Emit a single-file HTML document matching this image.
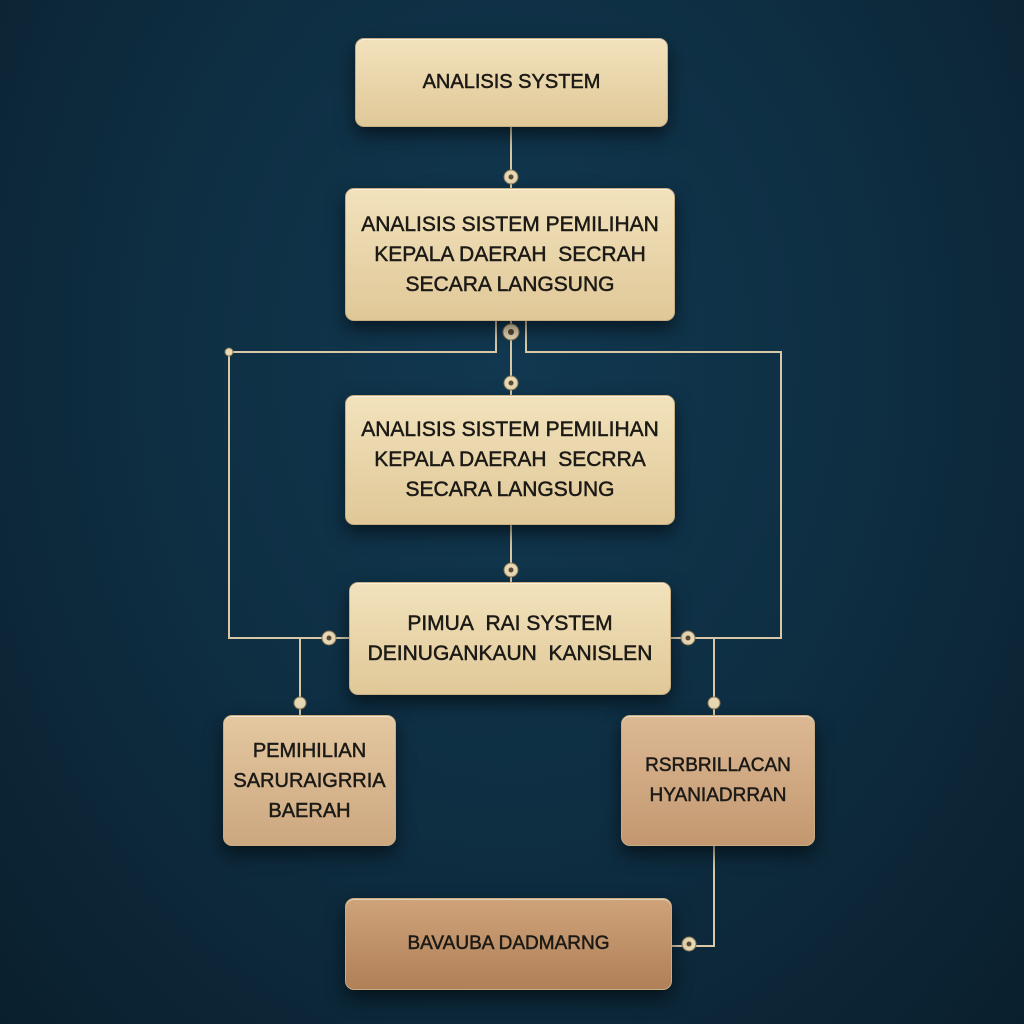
<!DOCTYPE html>
<html><head><meta charset="utf-8"><style>
html,body{margin:0;padding:0}
body{width:1024px;height:1024px;overflow:hidden;position:relative;
background:radial-gradient(ellipse at 50% 35%,#113850 0%,#0e2e42 50%,#0a1f2d 100%);
font-family:"Liberation Sans Narrow","Liberation Sans",sans-serif;}
.b{position:absolute;box-sizing:border-box;border-radius:9px;display:flex;flex-direction:column;
align-items:center;justify-content:center;text-align:center;color:#1c1a16;font-weight:normal;-webkit-text-stroke:0.5px #1c1a16;
box-shadow:0 8px 18px rgba(0,0,0,.55),inset 0 1px 0 rgba(255,255,255,.5);border:1px solid #c8ad82;}
.l{background:linear-gradient(#f2e2bc,#e0c898);}
svg{position:absolute;left:0;top:0}
</style></head><body>
<svg width="1024" height="1024">
<g stroke="#d8c8a8" stroke-width="2" fill="none">
<path d="M511 127V188"/>
<path d="M511 321V395"/>
<path d="M496 321V352H229V638H349"/>
<path d="M526 321V352H781V638H671"/>
<path d="M300 638V715"/>
<path d="M714 638V715"/>
<path d="M511 525V582"/>
<path d="M714 846V946H672"/>
</g>
<g fill="#e8d8b4" stroke="#8a7858" stroke-width="1">
<circle cx="511" cy="177" r="7"/><circle cx="511" cy="332" r="8"/><circle cx="511" cy="383" r="7"/>
<circle cx="229" cy="352" r="4"/><circle cx="329" cy="638" r="7"/><circle cx="688" cy="638" r="7"/>
<circle cx="300" cy="703" r="6"/><circle cx="714" cy="703" r="6"/><circle cx="511" cy="570" r="7"/>
<circle cx="689" cy="944" r="7"/>
</g>
<g fill="#5a4a36"><circle cx="511" cy="177" r="2.5"/><circle cx="511" cy="332" r="3"/><circle cx="511" cy="383" r="2.5"/><circle cx="329" cy="638" r="2.5"/><circle cx="688" cy="638" r="2.5"/><circle cx="511" cy="570" r="2.5"/><circle cx="689" cy="944" r="2.5"/></g>
</svg>
<div class="b l" style="left:355px;top:38px;width:313px;height:89px;font-size:20px;">ANALISIS SYSTEM</div>
<div class="b l" style="left:345px;top:188px;width:330px;height:133px;font-size:21px;line-height:30px;"><div>ANALISIS SISTEM PEMILIHAN</div><div>KEPALA DAERAH&nbsp; SECRAH</div><div>SECARA LANGSUNG</div></div>
<div class="b l" style="left:345px;top:395px;width:330px;height:130px;font-size:21px;line-height:30px;"><div>ANALISIS SISTEM PEMILIHAN</div><div>KEPALA DAERAH&nbsp; SECRRA</div><div>SECARA LANGSUNG</div></div>
<div class="b l" style="left:349px;top:582px;width:322px;height:113px;font-size:21px;line-height:30px;"><div>PIMUA&nbsp; RAI SYSTEM</div><div>DEINUGANKAUN&nbsp; KANISLEN</div></div>
<div class="b" style="left:223px;top:715px;width:173px;height:131px;font-size:20px;line-height:30px;background:linear-gradient(#e4c8a0,#cca780);"><div>PEMIHILIAN</div><div>SARURAIGRRIA</div><div>BAERAH</div></div>
<div class="b" style="left:621px;top:715px;width:194px;height:131px;font-size:19px;line-height:30px;background:linear-gradient(#dcb994,#c39870);"><div>RSRBRILLACAN</div><div>HYANIADRRAN</div></div>
<div class="b" style="left:345px;top:898px;width:327px;height:92px;font-size:19px;background:linear-gradient(#cfa37a,#b08058);">BAVAUBA DADMARNG</div>
</body></html>
